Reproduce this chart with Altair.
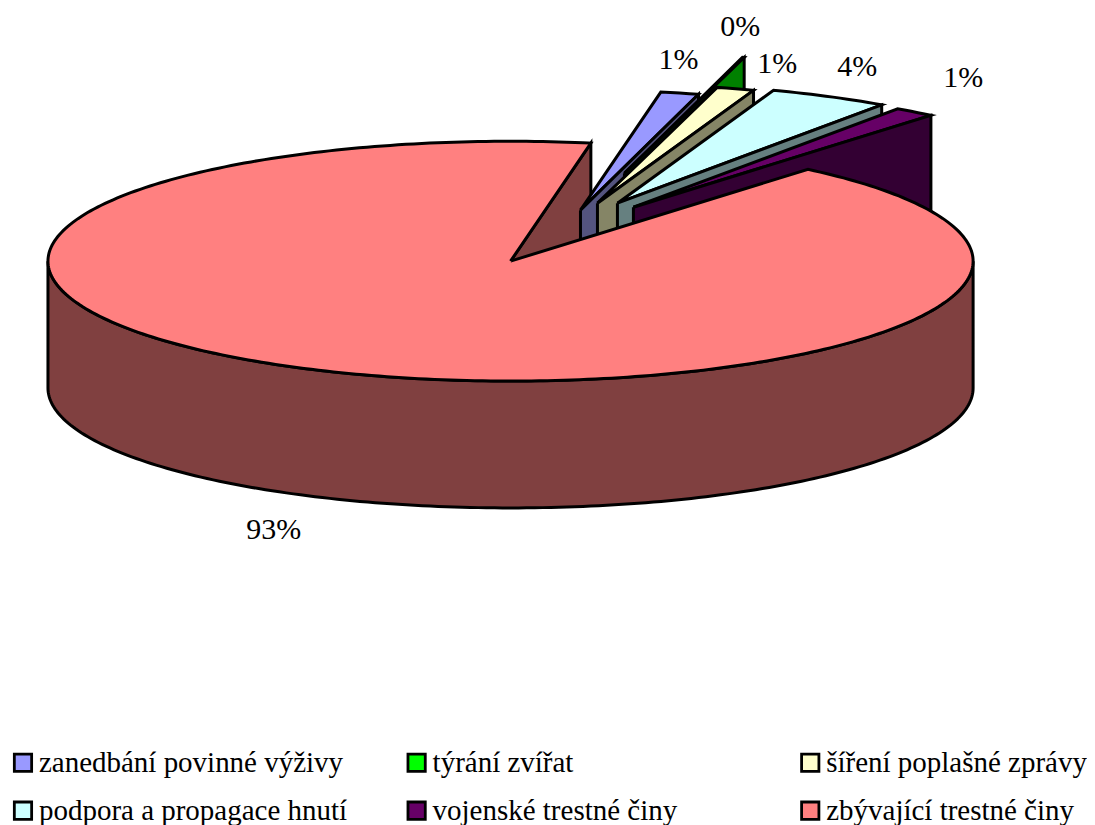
import math
import altair as alt
import pandas as pd

# Categories, in pie order
names = ["zanedbání povinné výživy", "týrání zvířat", "šíření poplašné zprávy",
         "podpora a propagace hnutí", "vojenské trestné činy", "zbývající trestné činy"]
# Printed percentage labels
labels = ["1%", "0%", "1%", "4%", "1%", "93%"]
# Share of the circle each slice covers as drawn (percent)
shares = [1.33, 0.06, 1.31, 4.2, 1.44, 91.66]
fills = ["#9999FF", "#00FF00", "#FFFFCC", "#CCFFFF", "#660066", "#FF8080"]
walls = ["#54547F", "#008000", "#858566", "#668080", "#330033", "#804040"]

W, H = 1079, 805
CX, CY, RX, RY, DEPTH = 510, 261, 463, 120, 127
START = 10.0                                      # first slice edge, degrees clockwise from the back
APEX = [(580, 210), (624, 173), (597, 203), (617, 203), (633, 207), (CX, CY)]
LABEL_POS = [(678, 60), (740, 27), (777, 64), (857, 67), (963, 78), (273, 530)]
LEG_X = [22, 416, 810]
LEG_Y = [763, 811]

edges = [START]
for s in shares:
    edges.append(edges[-1] + s * 3.6)


def rim(ax, ay, t):
    r = math.radians(t)
    return ax + RX * math.sin(r), ay - RY * math.cos(r)


def sweep(a, b):
    n = max(1, int(abs(b - a)))
    return [a + (b - a) * i / n for i in range(n + 1)]


x_scale = alt.Scale(domain=[8, 8 + W], range=[0, W], nice=False, zero=False)
y_scale = alt.Scale(domain=[8, 8 + H], range=[0, H], nice=False, zero=False)


def poly(points, fill, sw=3):
    pts = list(points) + [points[0]]
    df = pd.DataFrame({"px": [p[0] for p in pts], "py": [p[1] for p in pts], "i": range(len(pts))})
    return alt.Chart(df).mark_line(fill=fill, stroke="black", strokeWidth=sw,
                                   strokeJoin="miter", strokeCap="butt", clip=False).encode(
        x=alt.X("px:Q", scale=x_scale, axis=None),
        y=alt.Y("py:Q", scale=y_scale, axis=None),
        order="i:Q",
    )


def wall(i):
    ax, ay = APEX[i]
    ex, ey = rim(ax, ay, edges[i + 1])
    return poly([(ax, ay), (ex, ey), (ex, ey + DEPTH), (ax, ay + DEPTH)], walls[i])


def top(i):
    ax, ay = APEX[i]
    return poly([(ax, ay)] + [rim(ax, ay, t) for t in sweep(edges[i], edges[i + 1])], fills[i])


layers = []
red = 5
# Back edge of the big slice
layers.append(wall(red))
# Exploded slices, back to front
for i in range(5):
    layers.append(top(i))
    layers.append(wall(i))
# Front wall of the big slice
front = [rim(CX, CY, t) for t in sweep(90, 270)]
front_low = [(x, y + DEPTH) for x, y in reversed(front)]
layers.append(poly(front + front_low, walls[red]))
layers.append(top(red))

# Percentage labels
lab_df = pd.DataFrame({"t": labels, "px": [p[0] for p in LABEL_POS], "py": [p[1] for p in LABEL_POS]})
layers.append(alt.Chart(lab_df).mark_text(font="Liberation Serif", fontSize=30, color="black",
                                          align="center", baseline="middle").encode(
    x=alt.X("px:Q", scale=x_scale, axis=None), y=alt.Y("py:Q", scale=y_scale, axis=None), text="t:N"))

# Legend
leg_df = pd.DataFrame({
    "name": names,
    "fill": fills,
    "px": [LEG_X[k % 3] for k in range(6)],
    "py": [LEG_Y[k // 3] for k in range(6)],
})
layers.append(alt.Chart(leg_df).mark_square(size=300, stroke="black", strokeWidth=2.8, opacity=1).encode(
    x=alt.X("px:Q", scale=x_scale, axis=None), y=alt.Y("py:Q", scale=y_scale, axis=None),
    fill=alt.Fill("fill:N", scale=None)))
layers.append(alt.Chart(leg_df).mark_text(font="Liberation Serif", fontSize=29, color="black",
                                          align="left", baseline="middle", dx=16).encode(
    x=alt.X("px:Q", scale=x_scale, axis=None), y=alt.Y("py:Q", scale=y_scale, axis=None), text="name:N"))

chart = alt.layer(*layers).properties(width=W, height=H, padding=0, background="white").configure_view(stroke=None)
chart.save("out.html", embed_options={"renderer": "svg", "actions": False})
